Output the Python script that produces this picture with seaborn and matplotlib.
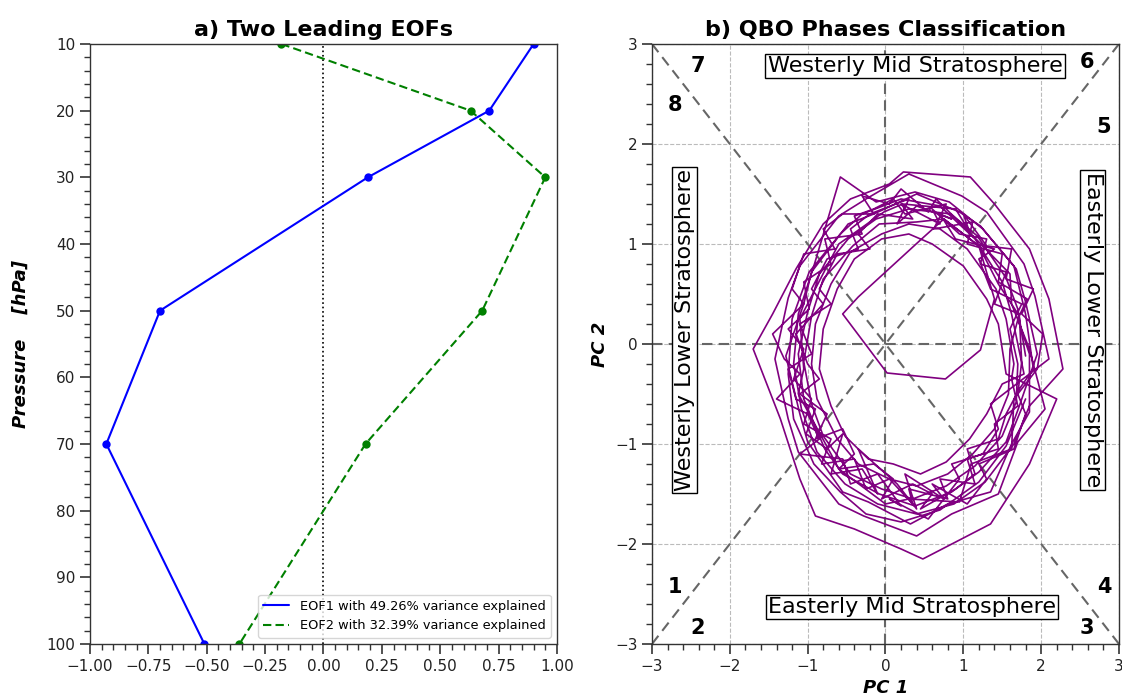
import numpy as np
import pandas as pd
import matplotlib
matplotlib.use("Agg")
import matplotlib.pyplot as plt
import seaborn as sns
from matplotlib.ticker import MultipleLocator

# ---- data ----
pressure = [10, 20, 30, 50, 70, 100]
eof1 = [0.90, 0.71, 0.19, -0.70, -0.93, -0.51]
eof2 = [-0.18, 0.63, 0.95, 0.68, 0.18, -0.36]
eof1_label = "EOF1 with 49.26% variance explained"
eof2_label = "EOF2 with 32.39% variance explained"

pc1 = [
    1.80, 1.70, 1.55, 1.18, 0.84, 0.30, -0.12, -0.48, -0.85, -1.00, -1.12, -1.05, -0.78, -0.55, -0.08, 0.38, 0.85, 1.20, 1.55, 1.72,
    1.95, 1.80, 1.68, 1.22, 0.95, 0.40, -0.15, -0.48, -0.95, -1.05, -1.28, -1.10, -1.00, -0.55, -0.22, 0.32, 0.80, 1.35, 1.62, 1.85,
    1.85, 1.70, 1.82, 1.45, 1.50, 1.05, 1.12, 0.62, 0.78, 0.25, 0.10, -0.15, -0.40, -0.30, -0.78, -0.70, -1.05, -0.98, -1.25, -1.05,
    -1.18, -0.95, -1.05, -0.70, -0.82, -0.40, -0.25, 0.05, 0.35, 0.30, 0.80, 0.70, 1.15, 1.05, 1.45, 1.40, 1.70, 1.62,
    1.65, 1.55, 1.42, 1.05, 0.70, 0.30, -0.05, -0.45, -0.70, -0.90, -0.95, -0.88, -0.62, -0.35, 0.05, 0.40, 0.80, 1.12, 1.40, 1.58,
    1.60, 1.72, 1.40, 1.55, 1.22, 1.30, 0.95, 0.60, 0.70, 0.20, 0.35, -0.10, -0.35, -0.20, -0.62, -0.85, -0.70, -1.10, -0.95, -1.25,
    -1.15, -0.90, -1.02, -0.75, -0.55, -0.70, -0.30, -0.10, -0.35, 0.15, 0.40, 0.25, 0.75, 0.95, 0.85, 1.25, 1.45, 1.35, 1.60,
    2.10, 1.92, 1.78, 1.30, 0.98, 0.30, -0.25, -0.60, -1.10, -1.25, -1.42, -1.25, -1.12, -0.60, -0.28, 0.40, 0.85, 1.45, 1.70, 2.05,
    1.85, 1.62, 1.60, 1.10, 0.90, 0.22, -0.02, -0.60, -0.75, -1.10, -1.05, -1.12, -0.70, -0.60, 0.00, 0.30, 0.95, 1.10, 1.62, 1.65,
    1.95, 2.02, 1.75, 1.90, 1.55, 1.62, 1.30, 1.00, 1.08, 0.65, 0.55, 0.20, 0.05, -0.30, -0.15, -0.55, -0.80, -0.65, -1.05, -1.20,
    -1.05, -1.45, -1.30, -1.10, -1.40, -1.00, -0.85, -1.10, -0.55, -0.45, -0.10, 0.20, 0.05, 0.55, 0.75, 0.60, 1.05, 1.30, 1.20, 1.65,
    1.80, 1.70,
    1.75, 1.72, 1.45, 1.20, 0.75, 0.45, -0.35, -0.55, 0.02, 0.77, 1.22, 1.40, 1.20, 0.75, 0.40, -0.08, -0.42, -0.80, -0.95, -1.05,
    -0.95, -0.80, -0.45, -0.05, 0.35, 0.78, 1.15, 1.50, 1.68,
    1.70, 1.60, 1.75, 1.35, 1.20, 1.40, 0.90, 0.70, 0.85, 0.40, 0.15, 0.30, -0.20, -0.45, -0.35, -0.75, -0.95, -0.80, -1.15, -1.00,
    -0.85, -1.10, -0.75, -0.90, -0.55, -0.40, -0.60, -0.15, 0.10, -0.05, 0.35, 0.60, 0.45, 0.90, 1.15, 1.05, 1.45, 1.55, 1.72,
    1.90, 1.80, 1.65, 1.25, 0.82, 0.38, -0.12, -0.58, -0.92, -1.12, -1.18, -1.08, -0.88, -0.52, -0.10, 0.40, 0.88, 1.28, 1.65, 1.85,
    2.28, 2.10, 1.85, 1.40, 1.09, 0.23, 0.05, -0.45, -0.80, -1.15, -1.45, -1.70, -1.35, -1.10, -0.90, -0.40, 0.20, 0.48, 1.35, 1.85, 2.20,
    1.55, 1.45, 1.30, 1.00, 0.60, 0.30, -0.05, -0.40, -0.62, -0.80, -0.85, -0.70, -0.52, -0.22, 0.10, 0.45, 0.78, 1.08, 1.30, 1.50,
    1.78, 1.62, 1.50, 1.15, 0.70, 0.20, -0.30, -0.58, -0.98, -1.20, -1.25, -1.18, -0.92, -0.58, -0.25, 0.20, 0.70, 1.20, 1.55, 1.80,
]
pc2 = [
    -0.12, 0.35, 0.66, 1.08, 1.30, 1.35, 1.25, 1.05, 0.70, 0.32, -0.10, -0.55, -1.05, -1.30, -1.50, -1.62, -1.48, -1.28, -0.98, -0.62,
    -0.10, 0.42, 0.75, 1.18, 1.32, 1.50, 1.30, 1.20, 0.72, 0.40, -0.12, -0.70, -0.98, -1.48, -1.58, -1.80, -1.60, -1.48, -1.00, -0.68,
    -0.10, 0.25, 0.45, 0.62, 0.90, 1.00, 1.22, 1.15, 1.40, 1.30, 1.45, 1.35, 1.28, 1.10, 1.05, 0.80, 0.62, 0.35, 0.15, -0.05,
    -0.35, -0.55, -0.80, -0.95, -1.20, -1.15, -1.45, -1.35, -1.60, -1.45, -1.55, -1.35, -1.40, -1.15, -1.05, -0.80, -0.62, -0.35,
    -0.20, 0.25, 0.55, 0.95, 1.15, 1.20, 1.10, 0.92, 0.60, 0.20, -0.20, -0.55, -0.95, -1.20, -1.35, -1.42, -1.30, -1.10, -0.85, -0.50,
    -0.05, 0.30, 0.40, 0.72, 0.80, 1.05, 1.10, 1.35, 1.20, 1.40, 1.25, 1.30, 1.10, 0.95, 0.90, 0.55, 0.40, 0.20, -0.10, -0.25,
    -0.55, -0.65, -0.90, -1.05, -0.90, -1.30, -1.25, -1.50, -1.05, -1.40, -1.65, -1.30, -1.55, -1.35, -1.20, -1.10, -0.85, -0.60, -0.45,
    -0.15, 0.48, 0.80, 1.32, 1.48, 1.70, 1.45, 1.28, 0.78, 0.46, -0.15, -0.75, -1.08, -1.60, -1.72, -1.92, -1.70, -1.50, -0.98, -0.65,
    -0.05, 0.40, 0.70, 1.10, 1.35, 1.40, 1.32, 1.00, 0.78, 0.25, -0.25, -0.50, -1.10, -1.25, -1.60, -1.55, -1.58, -1.20, -1.05, -0.55,
    -0.25, 0.10, 0.30, 0.55, 0.65, 0.95, 0.98, 1.30, 1.12, 1.45, 1.32, 1.55, 1.40, 1.48, 1.30, 1.30, 1.15, 0.95, 0.90, 0.55,
    0.40, 0.10, -0.15, -0.30, -0.55, -0.70, -0.95, -1.10, -1.15, -1.40, -1.30, -1.62, -1.55, -1.75, -1.55, -1.40, -1.60, -1.35, -1.20, -1.05,
    -0.70, -0.50,
    -0.18, 0.28, 0.60, 0.98, 1.25, 1.04, 0.47, 0.30, -0.29, -0.35, -0.06, 0.45, 0.98, 1.25, 1.22, 1.20, 0.98, 0.65, 0.28, -0.18,
    -0.60, -0.92, -1.30, -1.45, -1.55, -1.42, -1.22, -0.92, -0.58,
    -0.20, 0.15, 0.40, 0.55, 0.85, 0.95, 1.05, 1.30, 1.25, 1.38, 1.20, 1.45, 1.30, 1.15, 0.95, 0.85, 0.55, 0.40, 0.10, -0.20,
    -0.35, -0.50, -0.70, -0.95, -0.85, -1.10, -1.25, -1.20, -1.35, -1.55, -1.40, -1.50, -1.65, -1.45, -1.30, -1.05, -0.95, -0.70, -0.45,
    -0.25, 0.30, 0.78, 1.15, 1.42, 1.52, 1.42, 1.67, 0.78, 0.30, -0.20, -0.65, -1.08, -1.40, -1.60, -1.70, -1.60, -1.38, -1.00, -0.62,
    -0.25, 0.45, 0.95, 1.40, 1.67, 1.72, 1.60, 1.45, 1.20, 0.75, 0.30, -0.05, -0.75, -1.35, -1.72, -1.85, -2.05, -2.15, -1.80, -1.20, -0.55,
    -0.30, 0.20, 0.45, 0.78, 1.00, 1.10, 1.05, 0.85, 0.55, 0.15, -0.25, -0.62, -0.92, -1.15, -1.20, -1.30, -1.18, -0.95, -0.70, -0.40,
    -0.30, 0.30, 0.62, 1.05, 1.38, 1.45, 1.30, 1.10, 0.72, 0.25, -0.30, -0.75, -1.20, -1.48, -1.70, -1.78, -1.66, -1.38, -1.02, -0.55,
]

phase_numbers = ["1", "2", "3", "4", "5", "6", "7", "8"]
phase_x = [-2.70, -2.41, 2.59, 2.81, 2.80, 2.59, -2.41, -2.70]
phase_y = [-2.43, -2.84, -2.84, -2.43, 2.17, 2.82, 2.78, 2.39]

region_labels = ["Westerly Mid Stratosphere", "Easterly Mid Stratosphere",
                 "Westerly Lower Stratosphere", "Easterly Lower Stratosphere"]
region_x = [0.38, 0.34, -2.58, 2.66]
region_y = [2.78, -2.63, 0.14, 0.14]
region_rot = [0, 0, 90, -90]

# ---- figure ----
sns.set_style("ticks")
plt.rcParams['font.family'] = ['DejaVu Sans']
plt.rcParams['text.color'] = 'black'
plt.rcParams['axes.labelcolor'] = 'black'
fig = plt.figure(figsize=(11.22, 6.98), dpi=100)
ax1 = fig.add_axes([0.0802, 0.0774, 0.4162, 0.8596])
ax2 = fig.add_axes([0.5811, 0.0774, 0.4162, 0.8596])

for ax in (ax1, ax2):
    for s in ax.spines.values():
        s.set_color('#333333')
        s.set_linewidth(1.0)
    ax.tick_params(which='major', direction='out', length=7, width=1.2, labelsize=11,
                   colors='#333333', labelcolor='#222222')
    ax.tick_params(which='minor', direction='out', length=4, width=1.0, colors='#333333')

# panel a
df1 = pd.DataFrame({"x": eof1, "p": pressure})
df2 = pd.DataFrame({"x": eof2, "p": pressure})
ax1.axvline(0, color='black', linestyle=':', linewidth=1.2)
sns.lineplot(data=df1, x="x", y="p", sort=False, estimator=None, ax=ax1, color='blue',
             marker='o', markersize=6, markeredgewidth=0, linewidth=1.5, label=eof1_label)
sns.lineplot(data=df2, x="x", y="p", sort=False, estimator=None, ax=ax1, color='green',
             marker='o', markersize=6, markeredgewidth=0, linewidth=1.5, linestyle='--',
             label=eof2_label)
ax1.lines[-1].set_dashes([4, 2])
ax1.set_xlim(-1, 1)
ax1.set_ylim(100, 10)
ax1.xaxis.set_major_locator(MultipleLocator(0.25))
ax1.xaxis.set_minor_locator(MultipleLocator(0.05))
ax1.yaxis.set_major_locator(MultipleLocator(10))
ax1.yaxis.set_minor_locator(MultipleLocator(2))
ax1.set_xlabel("")
ax1.set_ylabel("Pressure    [hPa]", fontsize=13, fontweight='bold', fontstyle='italic', labelpad=12)
ax1.set_title("a) Two Leading EOFs", fontsize=16, fontweight='bold')
leg = ax1.legend(loc='lower right', fontsize=9.3, frameon=True)
for l in leg.get_lines():
    l.set_marker('')

# panel b
ax2.set_xlim(-3, 3)
ax2.set_ylim(-3, 3)
ax2.xaxis.set_major_locator(MultipleLocator(1))
ax2.xaxis.set_minor_locator(MultipleLocator(0.2))
ax2.yaxis.set_major_locator(MultipleLocator(1))
ax2.yaxis.set_minor_locator(MultipleLocator(0.2))
ax2.grid(True, which='major', linestyle='--', color='#bbbbbb', linewidth=0.8)
ax2.set_axisbelow(True)
dcol = '#666666'
ax2.plot([-3, 3], [3, -3], linestyle='--', color=dcol, linewidth=1.5, dashes=(5, 3))
ax2.plot([-3, 3], [-3, 3], linestyle='--', color=dcol, linewidth=1.5, dashes=(5, 3))
ax2.axhline(0, linestyle='--', color=dcol, linewidth=1.5, dashes=(5, 3))
ax2.axvline(0, linestyle='--', color=dcol, linewidth=1.5, dashes=(5, 3))
dfp = pd.DataFrame({"pc1": pc1, "pc2": pc2})
sns.lineplot(data=dfp, x="pc1", y="pc2", sort=False, estimator=None, ax=ax2,
             color='purple', linewidth=1.2)
for t, x, y in zip(phase_numbers, phase_x, phase_y):
    ax2.text(x, y, t, fontsize=15, fontweight='bold', ha='center', va='center')
for t, x, y, r in zip(region_labels, region_x, region_y, region_rot):
    ax2.text(x, y, t, fontsize=16, ha='center', va='center', rotation=r,
             bbox=dict(boxstyle='square,pad=0.1', facecolor='white', edgecolor='black', linewidth=1))
ax2.set_xlabel("PC 1", fontsize=13, fontweight='bold', fontstyle='italic')
ax2.set_ylabel("PC 2", fontsize=13, fontweight='bold', fontstyle='italic')
ax2.set_title("b) QBO Phases Classification", fontsize=16, fontweight='bold')

fig.savefig("out.png", dpi=100)
